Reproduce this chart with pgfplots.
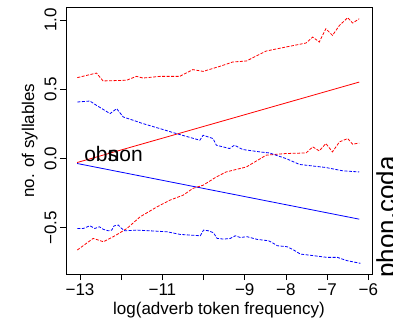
\documentclass[border=0pt]{standalone}
\usepackage{pgfplots}
\pgfplotsset{compat=1.18}
\usepackage{fontspec}
\setmainfont{Liberation Sans}
\newcommand{\lab}{\fontsize{17bp}{20bp}\selectfont}
\begin{document}
\begin{tikzpicture}
\useasboundingbox (0,0) rectangle (393bp,329bp);
\begin{axis}[
  at={(66bp,55bp)}, anchor=south west,
  scale only axis, width=306bp, height=267bp,
  xmin=-13.34, xmax=-5.91, ymin=-0.834, ymax=1.094,
  axis line style={black, line width=0.6bp},
  xtick={-13,-12,-11,-10,-9,-8,-7,-6},
  xticklabels={−13,,−11,,−9,−8,−7,−6},
  ytick={-0.5,0,0.5,1},
  yticklabels={−0.5,0.0,0.5,1.0},
  tick align=outside, major tick length=6bp,
  xtick pos=bottom, ytick pos=left,
  tick style={black, line width=0.6bp},
  ticklabel style={font=\lab},
  yticklabel style={rotate=90, anchor=south},
  xlabel={log(adverb token frequency)},
  ylabel={no. of syllables},
  label style={font=\lab},
  clip=false,
]
\addplot[red, line width=0.8bp] coordinates {(-13.07,-0.029) (-6.22,0.552)};
\addplot[blue, line width=0.8bp] coordinates {(-13.07,-0.036) (-6.22,-0.438)};
\addplot[red, line width=0.8bp, dash pattern=on 3bp off 1.5bp] coordinates {
(-13.065,0.584) (-12.60,0.617) (-12.44,0.560) (-11.87,0.565) (-11.63,0.593) (-11.47,0.581) (-11.06,0.593) (-10.58,0.593) (-10.26,0.642) (-10.01,0.629) (-9.61,0.665) (-9.29,0.697) (-8.96,0.704) (-8.48,0.776) (-8.00,0.805) (-7.51,0.834) (-7.35,0.877) (-7.19,0.841) (-7.03,0.937) (-6.87,0.889) (-6.70,0.961) (-6.50,1.017) (-6.38,0.978) (-6.22,1.009)};
\addplot[red, line width=0.8bp, dash pattern=on 3bp off 1.5bp] coordinates {
(-13.066,-0.661) (-12.68,-0.577) (-12.43,-0.601) (-12.15,-0.558) (-11.86,-0.505) (-11.54,-0.421) (-11.13,-0.349) (-10.81,-0.300) (-10.49,-0.264) (-10.26,-0.216) (-10.01,-0.193) (-9.69,-0.133) (-9.45,-0.097) (-8.96,-0.061) (-8.48,0.024) (-8.00,0.036) (-7.51,0.040) (-7.35,0.084) (-7.19,0.055) (-7.03,0.108) (-6.87,0.048) (-6.70,0.120) (-6.50,0.144) (-6.38,0.103) (-6.22,0.112)};
\addplot[blue, line width=0.8bp, dash pattern=on 3bp off 1.5bp] coordinates {
(-13.065,0.408) (-12.76,0.415) (-12.60,0.384) (-12.27,0.324) (-12.11,0.360) (-11.95,0.300) (-11.47,0.252) (-11.06,0.216) (-10.66,0.180) (-10.09,0.132) (-10.01,0.168) (-9.77,0.144) (-9.69,0.096) (-9.37,0.072) (-9.25,0.096) (-9.05,0.065) (-8.64,0.048) (-8.40,0.040) (-8.00,0.000) (-7.67,-0.043) (-7.03,-0.065) (-6.62,-0.089) (-6.22,-0.097)};
\addplot[blue, line width=0.8bp, dash pattern=on 3bp off 1.5bp] coordinates {
(-13.066,-0.505) (-12.92,-0.505) (-12.76,-0.486) (-12.64,-0.505) (-12.53,-0.493) (-12.43,-0.512) (-12.31,-0.522) (-12.23,-0.517) (-12.17,-0.486) (-12.07,-0.481) (-11.99,-0.505) (-11.91,-0.522) (-11.62,-0.517) (-11.30,-0.522) (-10.89,-0.529) (-10.57,-0.548) (-10.32,-0.553) (-10.08,-0.558) (-10.00,-0.517) (-9.88,-0.522) (-9.76,-0.536) (-9.67,-0.577) (-9.51,-0.582) (-9.35,-0.577) (-9.23,-0.558) (-9.11,-0.570) (-8.94,-0.565) (-8.70,-0.584) (-8.42,-0.594) (-8.34,-0.606) (-8.21,-0.630) (-7.97,-0.637) (-7.81,-0.661) (-7.65,-0.690) (-7.32,-0.702) (-7.00,-0.714) (-6.75,-0.714) (-6.51,-0.738) (-6.19,-0.757)};
\node[anchor=base west, inner sep=0pt, font=\fontsize{21bp}{24bp}\selectfont] at (axis cs:-12.90,-0.019) {obs};
\node[anchor=base west, inner sep=0pt, font=\fontsize{21bp}{24bp}\selectfont] at (axis cs:-12.33,-0.019) {non};
\end{axis}
\node[rotate=90, anchor=north west, inner sep=0pt, font=\fontsize{26bp}{30bp}\selectfont] at (376bp,51bp) {phon.coda};
\end{tikzpicture}
\end{document}
